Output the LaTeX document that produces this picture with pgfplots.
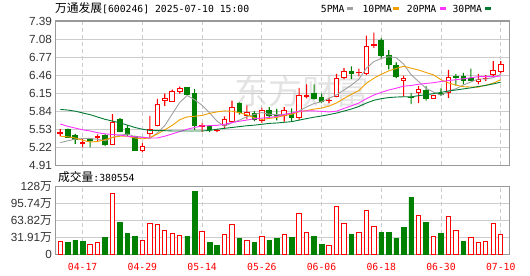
\documentclass[border=0pt]{standalone}
\usepackage{pgfplots}
\pgfplotsset{compat=1.18}
\usepackage{pgfplotstable}
\usepackage{fontspec}
\setmainfont{Liberation Sans}
\newfontfamily\cjk{Noto Sans CJK SC}
\newfontfamily\mono{DejaVu Sans Mono}
\definecolor{framec}{HTML}{999999}
\definecolor{gridc}{HTML}{CCCCCC}
\definecolor{labc}{HTML}{333333}
\definecolor{upc}{HTML}{FF0000}
\definecolor{dnc}{HTML}{008000}
\definecolor{mafive}{HTML}{A0A0A0}
\definecolor{maten}{HTML}{F0A000}
\definecolor{matwenty}{HTML}{FF33FF}
\definecolor{mathirty}{HTML}{007A33}
\definecolor{wm}{HTML}{E3E3E3}

% up candles: x open high low close
\pgfplotstableread{
x o h l c
0 5.46 5.53 5.41 5.48
3 5.29 5.36 5.22 5.30
5 5.38 5.44 5.32 5.40
7 5.27 5.79 5.27 5.64
11 5.17 5.29 5.13 5.24
12 5.45 5.76 5.40 5.53
13 5.59 6.05 5.58 5.96
14 6.02 6.14 5.93 6.06
15 6.01 6.21 6.00 6.17
16 6.18 6.26 6.14 6.23
19 5.58 5.64 5.48 5.59
21 5.50 5.53 5.48 5.51
22 5.60 5.75 5.55 5.69
23 5.67 6.02 5.64 5.90
25 5.76 5.94 5.70 5.82
27 5.68 5.90 5.64 5.85
30 5.76 5.91 5.66 5.85
32 5.73 6.24 5.69 6.11
33 6.10 6.30 6.06 6.11
36 6.02 6.07 5.98 6.03
37 6.09 6.48 6.08 6.40
38 6.42 6.58 6.39 6.52
40 6.50 6.57 6.44 6.51
41 6.48 7.14 6.46 6.96
42 6.97 7.19 6.93 6.98
46 6.36 6.45 6.09 6.40
48 6.16 6.27 5.98 6.21
50 6.06 6.12 6.05 6.11
52 6.16 6.55 6.07 6.42
56 6.35 6.48 6.30 6.39
57 6.40 6.46 6.36 6.41
58 6.47 6.70 6.44 6.54
59 6.52 6.70 6.49 6.65
}\up

% down candles
\pgfplotstableread{
x o h l c
1 5.53 5.54 5.38 5.39
2 5.42 5.45 5.28 5.35
4 5.35 5.37 5.22 5.34
6 5.43 5.45 5.24 5.27
8 5.70 5.72 5.48 5.49
9 5.55 5.60 5.41 5.44
10 5.41 5.42 5.16 5.17
17 6.24 6.25 6.12 6.13
18 6.14 6.22 5.52 5.59
20 5.57 5.60 5.48 5.52
24 5.98 5.99 5.78 5.81
26 5.80 5.84 5.67 5.70
28 5.86 5.91 5.73 5.76
29 5.78 5.88 5.68 5.77
31 5.80 5.89 5.66 5.73
34 6.15 6.30 6.04 6.06
35 6.07 6.14 5.98 6.00
39 6.53 6.61 6.39 6.49
43 7.06 7.09 6.76 6.79
44 6.79 6.89 6.56 6.64
45 6.63 6.68 6.41 6.43
47 6.08 6.15 5.96 6.07
49 6.20 6.27 6.02 6.05
51 6.15 6.23 6.10 6.13
53 6.43 6.48 6.28 6.42
54 6.43 6.50 6.30 6.37
55 6.41 6.57 6.36 6.37
}\down

% moving averages
\pgfplotstableread{
x m5 m10 m20 m30
0 5.30 5.41 5.62 5.87
1 5.33 5.40 5.58 5.86
2 5.36 5.38 5.55 5.84
3 5.37 5.34 5.52 5.81
4 5.372 5.31 5.50 5.78
5 5.356 5.32 5.47 5.74
6 5.332 5.35 5.45 5.70
7 5.39 5.39 5.44 5.67
8 5.428 5.41 5.43 5.64
9 5.448 5.41 5.41 5.60
10 5.402 5.379 5.40 5.56
11 5.396 5.364 5.39 5.53
12 5.374 5.382 5.38 5.51
13 5.468 5.448 5.38 5.505
14 5.592 5.52 5.41 5.505
15 5.792 5.597 5.45 5.50
16 5.99 5.693 5.49 5.50
17 6.11 5.742 5.53 5.50
18 6.036 5.752 5.56 5.50
19 5.942 5.767 5.589 5.50
20 5.812 5.802 5.591 5.51
21 5.668 5.829 5.597 5.53
22 5.58 5.845 5.614 5.545
23 5.642 5.839 5.644 5.56
24 5.686 5.814 5.667 5.575
25 5.746 5.779 5.688 5.59
26 5.784 5.726 5.71 5.60
27 5.816 5.698 5.72 5.615
28 5.788 5.715 5.734 5.63
29 5.78 5.733 5.75 5.637
30 5.786 5.766 5.784 5.649
31 5.792 5.788 5.809 5.66
32 5.844 5.83 5.838 5.686
33 5.914 5.851 5.845 5.713
34 5.972 5.876 5.845 5.737
35 6.002 5.894 5.837 5.757
36 6.062 5.927 5.827 5.782
37 6.12 5.982 5.84 5.807
38 6.202 6.058 5.887 5.842
39 6.288 6.13 5.932 5.877
40 6.39 6.196 5.981 5.921
41 6.576 6.319 6.054 5.979
42 6.692 6.406 6.118 6.027
43 6.746 6.474 6.163 6.055
44 6.776 6.532 6.204 6.074
45 6.76 6.575 6.235 6.083
46 6.648 6.612 6.27 6.088
47 6.466 6.579 6.281 6.086
48 6.35 6.548 6.303 6.107
49 6.232 6.504 6.317 6.122
50 6.168 6.464 6.33 6.142
51 6.114 6.381 6.35 6.163
52 6.184 6.325 6.366 6.187
53 6.226 6.288 6.381 6.204
54 6.29 6.261 6.397 6.223
55 6.342 6.255 6.415 6.241
56 6.394 6.254 6.433 6.264
57 6.392 6.288 6.434 6.283
58 6.416 6.321 6.435 6.309
59 6.472 6.381 6.443 6.338
}\ma

% volume (10k shares), red = up, green = down
\pgfplotstableread{
x v
0 24.8
4 19.2
5 22.9
7 114.0
11 26.6
12 58.2
13 56.4
14 45.2
15 39.7
16 35.9
19 43.4
22 37.8
23 56.4
25 26.6
27 34.1
30 37.8
32 76.8
33 41.5
36 17.3
37 89.8
38 58.2
40 41.5
41 82.4
42 52.7
48 73.1
50 34.1
52 71.3
53 45.2
55 32.2
56 22.9
57 24.8
58 58.2
59 38.06
}\volup

\pgfplotstableread{
x v
1 23.5
2 27.3
3 25.4
6 32.8
8 60.7
9 40.3
10 34.7
17 34.7
18 118.3
20 23.5
21 18.0
24 31.0
26 23.5
28 27.3
29 31.0
31 32.8
34 34.7
35 19.8
39 38.4
43 42.1
44 42.1
45 31.0
46 51.4
47 107.2
49 60.7
51 40.3
54 25.4
}\voldn

\pgfplotsset{
  pricebase/.style={at={(55.5bp,110.7bp)}, anchor=south west, scale only axis,
    width=453.8bp, height=144.3bp, xmin=-0.64, xmax=60.15, ymin=4.91, ymax=7.39},
  volbase/.style={at={(55.5bp,21.2bp)}, anchor=south west, scale only axis,
    width=453.8bp, height=68.3bp, xmin=-0.64, xmax=60.15, ymin=0, ymax=127.65},
  gridaxis/.style={
    axis line style={draw=framec, line width=1.2bp},
    major tick length=0pt,
    xtick={3,11,...,59},
    xmajorgrids, ymajorgrids,
    x grid style={gridc, dash pattern=on 4bp off 3bp, line width=0.9bp},
    y grid style={gridc, line width=1bp},
    yticklabel style={font=\fontsize{11.8}{12}\selectfont, text=labc},
  },
}

\begin{document}
\begin{tikzpicture}
\path[use as bounding box] (0,0) rectangle (530bp,276bp);

% watermark
\node[text=wm, font=\cjk\fontsize{34}{36}\selectfont, inner sep=0] at (302bp,185bp) {东方财富};

% ---------- price panel ----------
\begin{axis}[pricebase, gridaxis,
  xticklabels={},
  ytick={4.91,5.22,5.53,5.84,6.15,6.46,6.77,7.08,7.39},
  yticklabels={4.91,5.22,5.53,5.84,6.15,6.46,6.77,7.08,7.39}]
\end{axis}

% wicks (up)
\begin{axis}[pricebase, hide axis, ybar stacked, bar width=1.1bp]
\addplot[draw=none, fill=none] table[x=x, y=l] {\up};
\addplot[draw=none, fill=upc] table[x=x, y expr=\thisrow{h}-\thisrow{l}] {\up};
\end{axis}
% wicks (down)
\begin{axis}[pricebase, hide axis, ybar stacked, bar width=1.1bp]
\addplot[draw=none, fill=none] table[x=x, y=l] {\down};
\addplot[draw=none, fill=dnc] table[x=x, y expr=\thisrow{h}-\thisrow{l}] {\down};
\end{axis}

% up bodies (hollow red)
\begin{axis}[pricebase, hide axis, ybar stacked, bar width=4.6bp]
\addplot[draw=none, fill=none] table[x=x, y=o] {\up};
\addplot[draw=upc, fill=white, line width=1bp] table[x=x, y expr=\thisrow{c}-\thisrow{o}] {\up};
\end{axis}

% down bodies (filled green)
\begin{axis}[pricebase, hide axis, ybar stacked, bar width=4.6bp]
\addplot[draw=none, fill=none] table[x=x, y=c] {\down};
\addplot[draw=dnc, fill=dnc, line width=1bp] table[x=x, y expr=\thisrow{o}-\thisrow{c}] {\down};
\end{axis}

% moving averages
\begin{axis}[pricebase, hide axis]
\addplot[mafive, line width=0.9bp] table[x=x, y=m5] {\ma};
\addplot[maten, line width=0.9bp] table[x=x, y=m10] {\ma};
\addplot[matwenty, line width=0.9bp] table[x=x, y=m20] {\ma};
\addplot[mathirty, line width=0.9bp] table[x=x, y=m30] {\ma};
\end{axis}

% ---------- volume panel ----------
\begin{axis}[volbase, gridaxis,
  xticklabels={04-17,04-29,05-14,05-26,06-06,06-18,06-30,07-10},
  xticklabel style={text=upc, font=\mono\fontsize{9.8}{10}\selectfont, anchor=center, yshift=-11.9bp},
  ytick={0,31.91,63.82,95.74,127.65},
  yticklabels={0,31.91{\cjk 万},63.82{\cjk 万},95.74{\cjk 万},128{\cjk 万}}]
\addplot[ybar, bar width=4.4bp, bar shift=0pt, draw=upc, fill=white, line width=1bp] table[x=x, y=v] {\volup};
\addplot[ybar, bar width=4.6bp, bar shift=0pt, draw=dnc, fill=dnc, line width=0.6bp] table[x=x, y=v] {\voldn};
\end{axis}

% ---------- header texts ----------
\node[anchor=west, inner sep=0] at (55bp,267.5bp)
  {{\cjk\fontsize{11.8}{12}\selectfont 万通发展}{\mono\fontsize{9.8}{12}\selectfont [600246] 2025-07-10 15:00}};
\node[anchor=west, inner sep=0, font=\mono\fontsize{9.8}{12}\selectfont] at (320.7bp,267.3bp) {5PMA};
\fill[mafive] (346.7bp,265.6bp) rectangle (352.7bp,268.6bp);
\node[anchor=west, inner sep=0, font=\mono\fontsize{9.8}{12}\selectfont] at (362.3bp,267.3bp) {10PMA};
\fill[maten] (393.3bp,265.6bp) rectangle (399.3bp,268.6bp);
\node[anchor=west, inner sep=0, font=\mono\fontsize{9.8}{12}\selectfont] at (406.7bp,267.3bp) {20PMA};
\fill[matwenty] (439.5bp,265.6bp) rectangle (445.5bp,268.6bp);
\node[anchor=west, inner sep=0, font=\mono\fontsize{9.8}{12}\selectfont] at (452.3bp,267.3bp) {30PMA};
\fill[mathirty] (485bp,265.6bp) rectangle (491bp,268.6bp);

\node[anchor=west, inner sep=0] at (58bp,98.7bp)
  {{\cjk\fontsize{11.8}{12}\selectfont 成交量}{\mono\fontsize{9.8}{12}\selectfont :380554}};
\end{tikzpicture}
\end{document}
